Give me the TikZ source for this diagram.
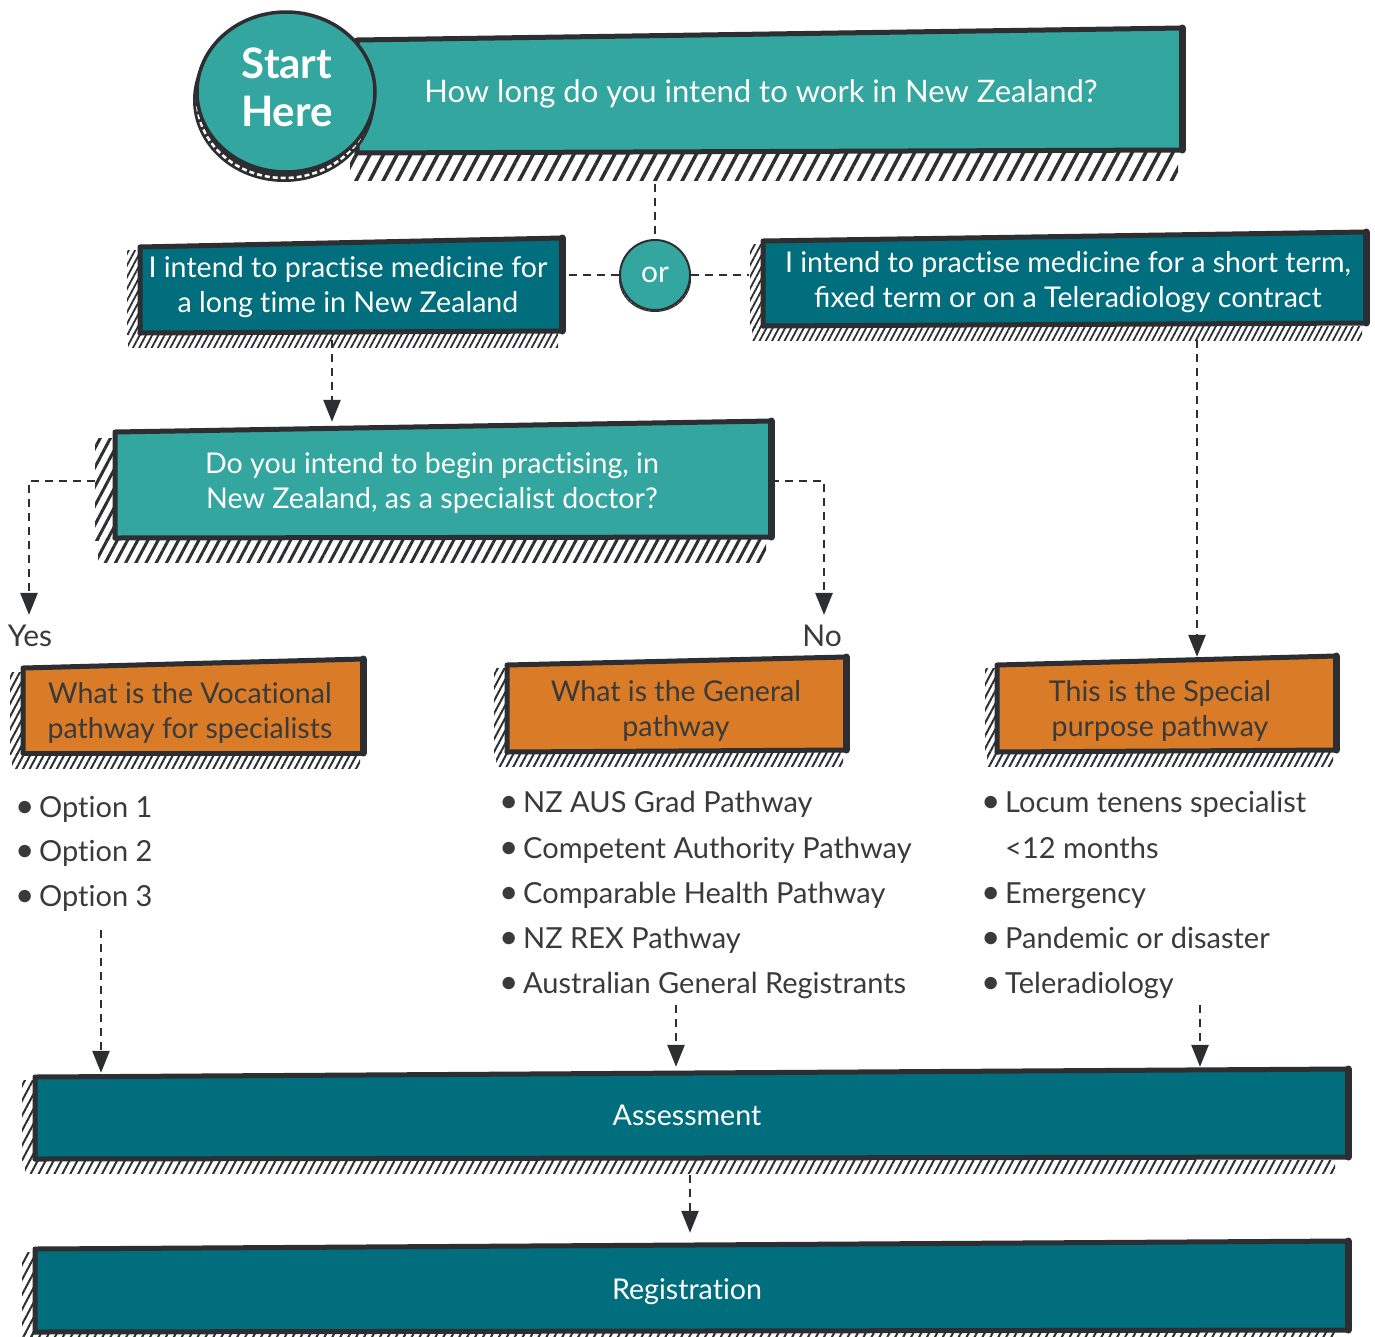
\documentclass[tikz,border=0pt]{standalone}
\usepackage{fontspec}
\setmainfont{Lato}
\usetikzlibrary{arrows.meta,patterns.meta,calc}
\definecolor{tealA}{HTML}{33A6A0}
\definecolor{tealB}{HTML}{016E7E}
\definecolor{orng}{HTML}{DA7B27}
\definecolor{ink}{HTML}{2D2E32}
\definecolor{txtd}{HTML}{3A3A3A}
\newcommand{\hatchfill}[6]{\fill[pattern={Lines[angle=62,distance=#5pt,line width=#6pt]},pattern color=ink] (#1,#2) rectangle (#3,#4);}
\newcommand{\boxshape}[7]{%
  \fill[#7] (#1,#2) -- (#3,#4) -- (#3,#5) -- (#1,#6) -- cycle;
  \draw[ink,line width=5pt,line cap=round,line join=round] (#1,#6) -- (#1,#2) -- (#3,#4);
  \draw[ink,line width=5pt,line cap=round] (#1,#6) -- (#3,#5);
  \draw[ink,line width=7pt,line cap=round] (#3,#4) -- (#3,#5);}
\newcommand{\bul}{\makebox[24pt][l]{\scalebox{1.15}{•}}}
\newcommand{\tI}{t\kern0pt i}
\begin{document}
\begin{tikzpicture}[x=1pt,y=-1pt,
  dline/.style={draw=ink,line width=2.6pt,dash pattern=on 8pt off 6pt},
  arr/.style={dline,-{Triangle[length=22pt,width=17pt]}},
  geo/.style={draw=none,fill=none,inner sep=0pt,rectangle},
  wtxt/.style={align=center,inner sep=0pt,text=white,font=\fontsize{28.6}{35}\selectfont},
  dtxt/.style={align=center,inner sep=0pt,text=txtd,font=\fontsize{28.6}{35}\selectfont},
  ltxt/.style={anchor=base west,inner sep=0pt,text=txtd,font=\fontsize{29}{35}\selectfont}]
\useasboundingbox (0,0) rectangle (1375,1336);

% ---------- top question ----------
\hatchfill{350}{150}{1178}{180}{12}{3.5}
\boxshape{357}{40}{1182}{28}{150}{153}{tealA}
\node[geo,minimum width=825pt,minimum height=120pt] (q0) at (770,91) {};
\node[wtxt,font=\fontsize{31}{38}\selectfont] (q0t) at (761,94) {How long do you intend to work in New Zealand?};

% start coin
\fill[ink] (284,100) ellipse [x radius=91, y radius=82];
\draw[white,line width=2.5pt,dash pattern=on 5pt off 3pt] (284,100) ellipse [x radius=87, y radius=78];
\draw[ink,line width=3.5pt,fill=tealA] (286,92) ellipse [x radius=89, y radius=80];
\node[align=center,inner sep=0pt,text=white,font=\bfseries\fontsize{42}{48}\selectfont] (start) at (287,87) {Start\\Here};

% ---------- or ----------
\fill[ink] (655,279) ellipse [x radius=36, y radius=33];
\draw[white,line width=1.6pt,dash pattern=on 3pt off 2pt] (655,279) ellipse [x radius=34, y radius=31];
\node[circle,minimum size=70pt,inner sep=0pt,draw=ink,line width=2pt,fill=tealA,text=white,font=\fontsize{30}{36}\selectfont] (or) at (655,275) {or};

% ---------- long / short ----------
\hatchfill{127}{250}{140}{334}{5.5}{1.8}
\hatchfill{128}{333}{558}{347}{5.5}{1.8}
\boxshape{140}{247}{562}{238}{331}{333}{tealB}
\node[geo,minimum width=422pt,minimum height=92pt] (long) at (351,286) {};
\node[wtxt] (longt) at (348,287) {I intend to prac\tI{}se medicine for\\a long \tI{}me in New Zealand};

\hatchfill{750}{244}{763}{327}{5.5}{1.8}
\hatchfill{752}{326}{1362}{340}{5.5}{1.8}
\boxshape{763}{241}{1366}{232}{323}{326}{tealB}
\node[geo,minimum width=603pt,minimum height=90pt] (short) at (1064,280) {};
\node[wtxt] (shortt) at (1068,282) {I intend to prac\tI{}se medicine for a short term,\\fixed term or on a Teleradiology contract};

% ---------- specialist question ----------
\hatchfill{95}{438}{115}{540}{9}{3}
\hatchfill{98}{538}{766}{562}{9}{3}
\boxshape{115}{432}{771}{421}{537}{538}{tealA}
\node[geo,minimum width=656pt,minimum height=116pt] (q1) at (443,480) {};
\node[wtxt] (q1t) at (432,483) {Do you intend to begin prac\tI{}sing, in\\New Zealand, as a specialist doctor?};

\node[dtxt,font=\fontsize{30}{34}\selectfont] (yes) at (30,636) {Yes};
\node[dtxt,font=\fontsize{30}{34}\selectfont] (no) at (822,636) {No};

% ---------- pathways ----------
\hatchfill{10}{672}{23}{754}{6}{2}
\hatchfill{12}{753}{360}{768}{6}{2}
\boxshape{23}{668}{363}{659}{753}{753}{orng}
\node[geo,minimum width=340pt,minimum height=94pt] (voc) at (193,706) {};
\node[dtxt] (voct) at (190,713) {What is the Voca\tI{}onal\\pathway for specialists};

\hatchfill{494}{668}{507}{753}{6}{2}
\hatchfill{496}{752}{843}{766}{6}{2}
\boxshape{507}{665}{846}{657}{750}{752}{orng}
\node[geo,minimum width=339pt,minimum height=94pt] (gen) at (676,704) {};
\node[dtxt] (gent) at (676,711) {What is the General\\pathway};

\hatchfill{985}{668}{997}{753}{6}{2}
\hatchfill{987}{752}{1333}{766}{6}{2}
\boxshape{997}{665}{1336}{656}{750}{752}{orng}
\node[geo,minimum width=339pt,minimum height=94pt] (sp) at (1166,704) {};
\node[dtxt] (spt) at (1160,711) {This is the Special\\purpose pathway};

% ---------- lists ----------
\node[ltxt] (v1) at (15,817) {\bul Op\tI{}on 1};
\node[ltxt] (v2) at (15,861) {\bul Op\tI{}on 2};
\node[ltxt] (v3) at (15,906) {\bul Op\tI{}on 3};

\node[ltxt] (g1) at (499,812) {\bul NZ AUS Grad Pathway};
\node[ltxt] (g2) at (499,858) {\bul Competent Authority Pathway};
\node[ltxt] (g3) at (499,903) {\bul Comparable Health Pathway};
\node[ltxt] (g4) at (499,948) {\bul NZ REX Pathway};
\node[ltxt] (g5) at (499,993) {\bul Australian General Registrants};

\node[ltxt] (s1) at (981,812) {\bul Locum tenens specialist};
\node[ltxt] (s2) at (981,858) {\hspace*{24pt}<12 months};
\node[ltxt] (s3) at (981,903) {\bul Emergency};
\node[ltxt] (s4) at (981,948) {\bul Pandemic or disaster};
\node[ltxt] (s5) at (981,993) {\bul Teleradiology};

% ---------- assessment / registration ----------
\hatchfill{22}{1080}{35}{1160}{7}{2}
\hatchfill{25}{1160}{1335}{1173}{7}{2}
\boxshape{35}{1077}{1348}{1069}{1157}{1159}{tealB}
\node[geo,minimum width=1313pt,minimum height=86pt] (ass) at (691,1114) {};
\node[wtxt] (asst) at (687,1115) {Assessment};

\hatchfill{22}{1252}{35}{1336}{7}{2}
\hatchfill{25}{1332}{1335}{1342}{7}{2}
\boxshape{35}{1249}{1348}{1241}{1330}{1332}{tealB}
\node[geo,minimum width=1313pt,minimum height=88pt] (reg) at (691,1287) {};
\node[wtxt] (regt) at (687,1292) {Registra\tI{}on};

% ---------- connectors ----------
\draw[dline] ($(q0.south -| or.north)+(0,33)$) -- (or.north);
\draw[dline] (or.west) -- ($(or.west -| long.east)+(6,0)$);
\draw[dline] (or.east) -- ($(or.east -| short.west)+(-13,0)$);
\coordinate (lb) at ($(long.south)+(-19,8)$);
\draw[arr] (lb) -- (lb |- q1.north);
\draw[arr] ($(q1.west)+(-20,1)$) -| ($(yes.north)+(-1,-10)$);
\draw[arr] ($(q1.east)+(0,1)$) -| ($(no.north)+(2,-10)$);
\coordinate (sb) at (1197,340);
\draw[arr] (sb) -- (sb |- sp.north);
\coordinate (v3b) at (101,930);
\draw[arr] (v3b) -- ($(v3b |- ass.north)+(0,2)$);
\coordinate (g5b) at (676,1005);
\draw[arr] (g5b) -- ($(g5b |- ass.north)+(0,-4)$);
\coordinate (s5b) at (1200,1005);
\draw[arr] (s5b) -- ($(s5b |- ass.north)+(0,-4)$);
\coordinate (ab) at (690,1175);
\coordinate (rt) at ($(ab |- reg.north)+(0,-10)$);
\draw[arr] (ab) -- (rt);
\end{tikzpicture}
\end{document}
